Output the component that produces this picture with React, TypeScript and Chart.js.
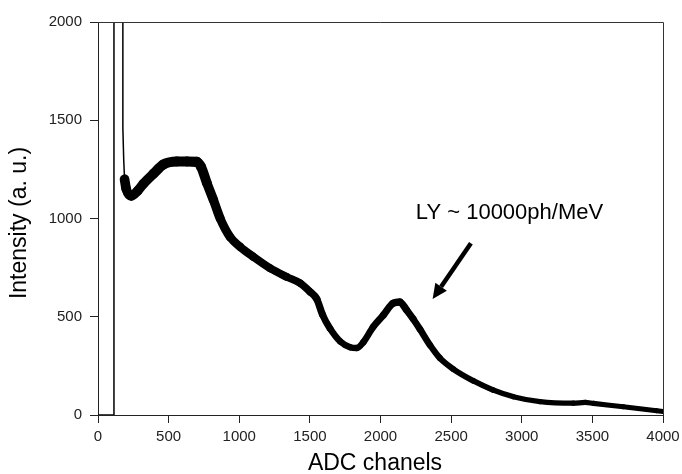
import React, { useEffect, useRef } from "react";
import { Chart, registerables } from "chart.js";

Chart.register(...registerables);

const xTickValues = [0, 500, 1000, 1500, 2000, 2500, 3000, 3500, 4000];
const yTickValues = [0, 500, 1000, 1500, 2000];

const X_TITLE = "ADC chanels";
const Y_TITLE = "Intensity (a. u.)";
const NOTE_TEXT = "LY ~ 10000ph/MeV";

// thin off-scale spike at low channels
const spikeChannels = [0, 113, 113, 176, 176, 182, 188];
const spikeValues = [0, 0, 2600, 2600, 1460, 1300, 1200];

// main spectrum (thick noisy band)
const channels = [
  188, 200, 236, 280, 323, 393, 464, 558, 630, 700, 730, 771, 817, 865, 936,
  1006, 1100, 1218, 1336, 1431, 1501, 1549, 1590, 1643, 1714, 1785, 1832, 1879,
  1949, 2020, 2090, 2137, 2185, 2232, 2279, 2350, 2420, 2515, 2657, 2798, 2940,
  3129, 3365, 3450, 3507, 3719, 3955, 4000,
];
const intensity = [
  1200, 1150, 1115, 1140, 1178, 1228, 1275, 1290, 1290, 1288, 1262, 1180, 1095,
  1000, 905, 856, 805, 747, 703, 671, 627, 590, 510, 440, 375, 345, 341, 371,
  449, 508, 569, 575, 534, 488, 437, 356, 290, 234, 174, 127, 93, 68, 60, 64,
  59, 42, 22, 18,
];

// annotation anchors (data coordinates)
const arrowFrom = [2640, 874];
const arrowTo = [2369, 590];
const noteAt = [2250, 996];

const FONT = "'Liberation Sans', Arial, sans-serif";
const AXIS_COLOR = "#222";

export default function App() {
  const ref = useRef<HTMLCanvasElement | null>(null);

  useEffect(() => {
    const canvas = ref.current;
    if (!canvas) return;

    const decor = {
      id: "decor",
      afterDraw(chart: any) {
        const { ctx, chartArea: a, scales } = chart;
        const xs = scales.x;
        const ys = scales.y;
        ctx.save();
        // frame top/right
        ctx.strokeStyle = "#333";
        ctx.lineWidth = 1;
        ctx.beginPath();
        ctx.moveTo(a.left, a.top + 0.5);
        ctx.lineTo(a.right + 0.5, a.top + 0.5);
        ctx.lineTo(a.right + 0.5, a.bottom);
        ctx.stroke();

        // titles
        ctx.fillStyle = "#000";
        ctx.font = `23px ${FONT}`;
        ctx.textAlign = "center";
        ctx.textBaseline = "middle";
        ctx.fillText(X_TITLE, 375, 464);
        ctx.save();
        ctx.translate(20, 223);
        ctx.rotate(-Math.PI / 2);
        ctx.fillText(Y_TITLE, 0, 0);
        ctx.restore();

        // note
        ctx.font = `22px ${FONT}`;
        ctx.textAlign = "left";
        ctx.textBaseline = "alphabetic";
        ctx.fillText(
          NOTE_TEXT,
          xs.getPixelForValue(noteAt[0]),
          ys.getPixelForValue(noteAt[1])
        );

        // arrow
        const x0 = xs.getPixelForValue(arrowFrom[0]);
        const y0 = ys.getPixelForValue(arrowFrom[1]);
        const x1 = xs.getPixelForValue(arrowTo[0]);
        const y1 = ys.getPixelForValue(arrowTo[1]);
        const ang = Math.atan2(y1 - y0, x1 - x0);
        const headLen = 15;
        const headW = 7;
        const bx = x1 - headLen * Math.cos(ang);
        const by = y1 - headLen * Math.sin(ang);
        ctx.strokeStyle = "#000";
        ctx.lineWidth = 4.5;
        ctx.lineCap = "butt";
        ctx.beginPath();
        ctx.moveTo(x0, y0);
        ctx.lineTo(bx, by);
        ctx.stroke();
        ctx.beginPath();
        ctx.moveTo(x1, y1);
        ctx.lineTo(bx + headW * Math.sin(ang), by - headW * Math.cos(ang));
        ctx.lineTo(bx - headW * Math.sin(ang), by + headW * Math.cos(ang));
        ctx.closePath();
        ctx.fill();
        ctx.restore();
      },
    };

    // band thickness grows with count level (statistical noise)
    const widthFor = (v: number) => 5 + v * 0.004;

    const chart = new Chart(canvas, {
      type: "line",
      data: {
        datasets: [
          {
            data: spikeChannels.map((c, i) => ({ x: c, y: spikeValues[i] })),
            borderColor: "#000",
            borderWidth: 1.5,
            pointRadius: 0,
            tension: 0,
          },
          {
            data: channels.map((c, i) => ({ x: c, y: intensity[i] })),
            borderColor: "#000",
            borderWidth: 8,
            pointRadius: 0,
            cubicInterpolationMode: "monotone",
            borderJoinStyle: "round",
            borderCapStyle: "round",
            segment: {
              borderWidth: (ctx: any) =>
                widthFor((ctx.p0.parsed.y + ctx.p1.parsed.y) / 2),
            },
          },
        ],
      },
      options: {
        responsive: false,
        animation: false,
        events: [],
        layout: { padding: { left: 0, top: 22, right: 19, bottom: 0 } },
        plugins: {
          legend: { display: false },
          tooltip: { enabled: false },
          title: { display: false },
        },
        scales: {
          x: {
            type: "linear",
            min: 0,
            max: 4000,
            afterBuildTicks: (s: any) => {
              s.ticks = xTickValues.map((v) => ({ value: v }));
            },
            afterFit: (s: any) => {
              s.height = 59;
              s.paddingLeft = 0;
              s.paddingRight = 0;
            },
            grid: {
              drawOnChartArea: false,
              drawTicks: true,
              tickLength: 8,
              color: AXIS_COLOR,
            },
            border: { display: true, color: AXIS_COLOR, width: 1 },
            ticks: {
              autoSkip: false,
              maxRotation: 0,
              padding: 5,
              color: AXIS_COLOR,
              font: { family: FONT, size: 15 },
              callback: (v: any) => String(v),
            },
          },
          y: {
            type: "linear",
            min: 0,
            max: 2000,
            afterBuildTicks: (s: any) => {
              s.ticks = yTickValues.map((v) => ({ value: v }));
            },
            afterFit: (s: any) => {
              s.width = 98;
              s.paddingTop = 0;
              s.paddingBottom = 0;
            },
            grid: {
              drawOnChartArea: false,
              drawTicks: true,
              tickLength: 8,
              color: AXIS_COLOR,
            },
            border: { display: true, color: AXIS_COLOR, width: 1 },
            ticks: {
              autoSkip: false,
              padding: 8,
              color: AXIS_COLOR,
              font: { family: FONT, size: 15 },
              callback: (v: any) => String(v),
            },
          },
        },
      },
      plugins: [decor],
    } as any);

    return () => chart.destroy();
  }, []);

  return (
    <div style={{ position: "absolute", left: 0, top: 0, width: 682, height: 474, background: "#fff" }}>
      <canvas ref={ref} width={682} height={474} style={{ width: 682, height: 474, display: "block" }} />
    </div>
  );
}
